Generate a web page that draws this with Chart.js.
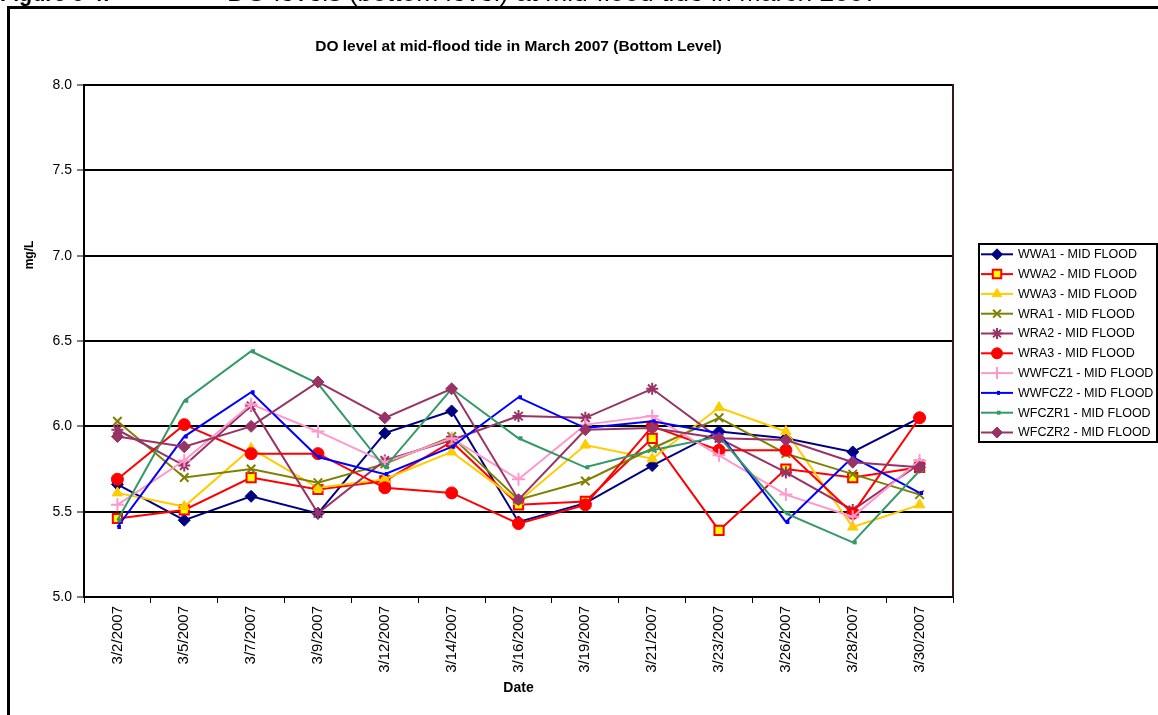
<!DOCTYPE html>
<html>
<head>
<meta charset="utf-8">
<title>DO level at mid-flood tide in March 2007 (Bottom Level)</title>
<script src="https://cdn.jsdelivr.net/npm/chart.js@4.4.1/dist/chart.umd.min.js"></script>
<style>
    html, body { margin: 0; padding: 0; background: #fff; }
    #wrap { position: relative; width: 1158px; height: 715px; overflow: hidden; }
    #frame { position: absolute; left: 7px; top: 6px; width: 1300px; height: 900px; border: 3px solid #000; box-sizing: border-box; }
    #myChart { position: absolute; left: 0; top: 0; }
</style>
</head>
<body>
<div id="wrap">
    <div id="frame"></div>
    <canvas id="myChart" width="1158" height="715"></canvas>
</div>
<script>
// sampling dates
const dates = ['3/2/2007', '3/5/2007', '3/7/2007', '3/9/2007', '3/12/2007', '3/14/2007', '3/16/2007',
               '3/19/2007', '3/21/2007', '3/23/2007', '3/26/2007', '3/28/2007', '3/30/2007'];

// DO (mg/L), bottom level, mid-flood tide
const wwa1   = [5.66, 5.45, 5.59, 5.49, 5.96, 6.09, 5.44, 5.55, 5.77, 5.97, 5.93, 5.85, 6.05];
const wwa2   = [5.46, 5.51, 5.70, 5.63, 5.68, 5.91, 5.54, 5.56, 5.93, 5.39, 5.75, 5.70, 5.76];
const wwa3   = [5.61, 5.53, 5.87, 5.64, 5.69, 5.85, 5.56, 5.89, 5.81, 6.11, 5.97, 5.41, 5.54];
const wra1   = [6.03, 5.70, 5.75, 5.67, 5.78, 5.94, 5.57, 5.68, 5.87, 6.05, 5.84, 5.72, 5.60];
const wra2   = [5.98, 5.77, 6.12, 5.49, 5.80, 5.92, 6.06, 6.05, 6.22, 5.93, 5.73, 5.51, 5.78];
const wra3   = [5.69, 6.01, 5.84, 5.84, 5.64, 5.61, 5.43, 5.54, 6.00, 5.86, 5.86, 5.49, 6.05];
const wwfcz1 = [5.54, 5.80, 6.13, 5.97, 5.79, 5.93, 5.69, 6.01, 6.06, 5.83, 5.60, 5.47, 5.80];
const wwfcz2 = [5.41, 5.94, 6.20, 5.82, 5.72, 5.88, 6.17, 5.99, 6.03, 5.96, 5.44, 5.82, 5.61];
const wfczr1 = [5.45, 6.15, 6.44, 6.25, 5.76, 6.22, 5.93, 5.76, 5.86, 5.94, 5.49, 5.32, 5.74];
const wfczr2 = [5.94, 5.88, 6.00, 6.26, 6.05, 6.22, 5.57, 5.98, 5.99, 5.93, 5.92, 5.79, 5.76];

const yTicks = [5.0, 5.5, 6.0, 6.5, 7.0, 7.5, 8.0];

const seriesNames = ['WWA1 - MID FLOOD', 'WWA2 - MID FLOOD', 'WWA3 - MID FLOOD', 'WRA1 - MID FLOOD', 'WRA2 - MID FLOOD',
                     'WRA3 - MID FLOOD', 'WWFCZ1 - MID FLOOD', 'WWFCZ2 - MID FLOOD', 'WFCZR1 - MID FLOOD', 'WFCZR2 - MID FLOOD'];
const seriesData = [wwa1, wwa2, wwa3, wra1, wra2, wra3, wwfcz1, wwfcz2, wfczr1, wfczr2];

// marker looks (excel style)
const looks = [
    { color: '#000080', fill: '#000080', style: 'rectRot',  radius: 6,   bw: 1 },
    { color: '#FF0000', fill: '#FFFF00', style: 'rect',     radius: 6.5, bw: 2 },
    { color: '#FFCC00', fill: '#FFCC00', style: 'triangle', radius: 6,   bw: 1 },
    { color: '#808000', fill: '#808000', style: 'crossRot', radius: 6,   bw: 2 },
    { color: '#993366', fill: '#993366', style: 'star',     radius: 6,   bw: 2 },
    { color: '#FF0000', fill: '#FF0000', style: 'circle',   radius: 6,   bw: 1 },
    { color: '#FF99CC', fill: '#FF99CC', style: 'cross',    radius: 6.5, bw: 2 },
    { color: '#0000FF', fill: '#0000FF', style: 'dash',     radius: 3.5, bw: 4 },
    { color: '#339966', fill: '#339966', style: 'dash',     radius: 4,   bw: 4 },
    { color: '#993366', fill: '#993366', style: 'rectRot',  radius: 6,   bw: 1 }
];

const FONT = 'Arial, "Liberation Sans", sans-serif';

// titles, frame lines and the boxed legend
const decor = {
    id: 'decor',
    beforeDatasetsDraw(chart) {
        const { ctx, chartArea: a } = chart;
        ctx.save();
        ctx.strokeStyle = '#000';
        ctx.lineWidth = 2;
        ctx.beginPath();
        ctx.moveTo(a.left, a.top);
        ctx.lineTo(a.right, a.top);
        ctx.stroke();
        ctx.strokeStyle = '#3a1818';
        ctx.beginPath();
        ctx.moveTo(a.right, a.top - 1);
        ctx.lineTo(a.right, a.bottom);
        ctx.stroke();
        ctx.restore();
    },
    afterDraw(chart) {
        const { ctx, chartArea: a } = chart;
        ctx.save();
        ctx.fillStyle = '#000';

        // page caption, cut off at the top
        ctx.textBaseline = 'alphabetic';
        ctx.textAlign = 'left';
        ctx.font = 'bold 21.5px ' + FONT;
        ctx.fillText('Figure 3-4:', 0, 1);
        ctx.font = '26.4px ' + FONT;
        ctx.fillText('DO levels (bottom level) at mid-flood tide in March 2007', 227, 1);

        ctx.textAlign = 'center';
        ctx.textBaseline = 'middle';
        ctx.font = 'bold 15.5px ' + FONT;
        ctx.fillText('DO level at mid-flood tide in March 2007 (Bottom Level)', (a.left + a.right) / 2, 47);

        ctx.font = 'bold 14px ' + FONT;
        ctx.fillText('Date', (a.left + a.right) / 2, 688);

        ctx.font = 'bold 12px ' + FONT;
        ctx.save();
        ctx.translate(30, 255);
        ctx.rotate(-Math.PI / 2);
        ctx.fillText('mg/L', 0, 0);
        ctx.restore();

        // legend
        const bx = 979, by = 244, bw = 178, bh = 198;
        ctx.strokeStyle = '#000';
        ctx.lineWidth = 2;
        ctx.strokeRect(bx, by, bw, bh);
        ctx.font = '12.5px ' + FONT;
        ctx.textAlign = 'left';
        seriesNames.forEach(function(name, i) {
            const lk = looks[i];
            const y = by + 10.3 + i * 19.8;
            ctx.strokeStyle = lk.color;
            ctx.lineWidth = 2;
            ctx.beginPath();
            ctx.moveTo(981, y);
            ctx.lineTo(1013, y);
            ctx.stroke();
            ctx.fillStyle = lk.fill;
            ctx.strokeStyle = lk.color;
            ctx.lineWidth = lk.bw;
            Chart.helpers.drawPoint(ctx, { pointStyle: lk.style, radius: lk.radius - 0.5, borderWidth: lk.bw, rotation: 0 }, 997, y);
            ctx.fillStyle = '#000';
            ctx.fillText(name, 1018, y + 0.5);
        });
        ctx.restore();
    }
};

const ctx = document.getElementById('myChart').getContext('2d');
const myChart = new Chart(ctx, {
    type: 'line',
    data: {
        labels: dates,
        datasets: seriesData.map(function(d, i) {
            const lk = looks[i];
            return {
                label: seriesNames[i],
                data: d,
                borderColor: lk.color,
                backgroundColor: lk.fill,
                borderWidth: 2,
                tension: 0,
                fill: false,
                pointStyle: lk.style,
                pointRadius: lk.radius,
                pointHoverRadius: lk.radius,
                pointBackgroundColor: lk.fill,
                pointBorderColor: lk.color,
                pointBorderWidth: lk.bw,
                order: seriesData.length - i   // later series on top, like excel
            };
        })
    },
    options: {
        responsive: false,
        animation: false,
        devicePixelRatio: 1,
        events: [],
        layout: { padding: { top: 85, right: 205, bottom: 0, left: 0 } },
        plugins: {
            legend: { display: false },
            title: { display: false },
            tooltip: { enabled: false }
        },
        scales: {
            x: {
                offset: true,
                grid: { offset: true, drawOnChartArea: false, drawTicks: true, tickLength: 6, tickColor: '#000', tickWidth: 1 },
                border: { color: '#000', width: 2 },
                ticks: { color: '#000', font: { family: FONT, size: 15 }, minRotation: 90, maxRotation: 90, autoSkip: false, padding: 3 },
                afterFit: function(s) { s.height = 118; }
            },
            y: {
                min: yTicks[0],
                max: yTicks[yTicks.length - 1],
                afterBuildTicks: function(s) { s.ticks = yTicks.map(v => ({ value: v })); },
                ticks: { color: '#000', font: { family: FONT, size: 14 }, padding: 5, callback: v => v.toFixed(1) },
                grid: { color: '#000', lineWidth: 2, tickLength: 7, tickColor: '#000', tickWidth: 1 },
                border: { color: '#000', width: 2 },
                afterFit: function(s) { s.width = 84; }
            }
        }
    },
    plugins: [decor]
});
</script>
</body>
</html>
